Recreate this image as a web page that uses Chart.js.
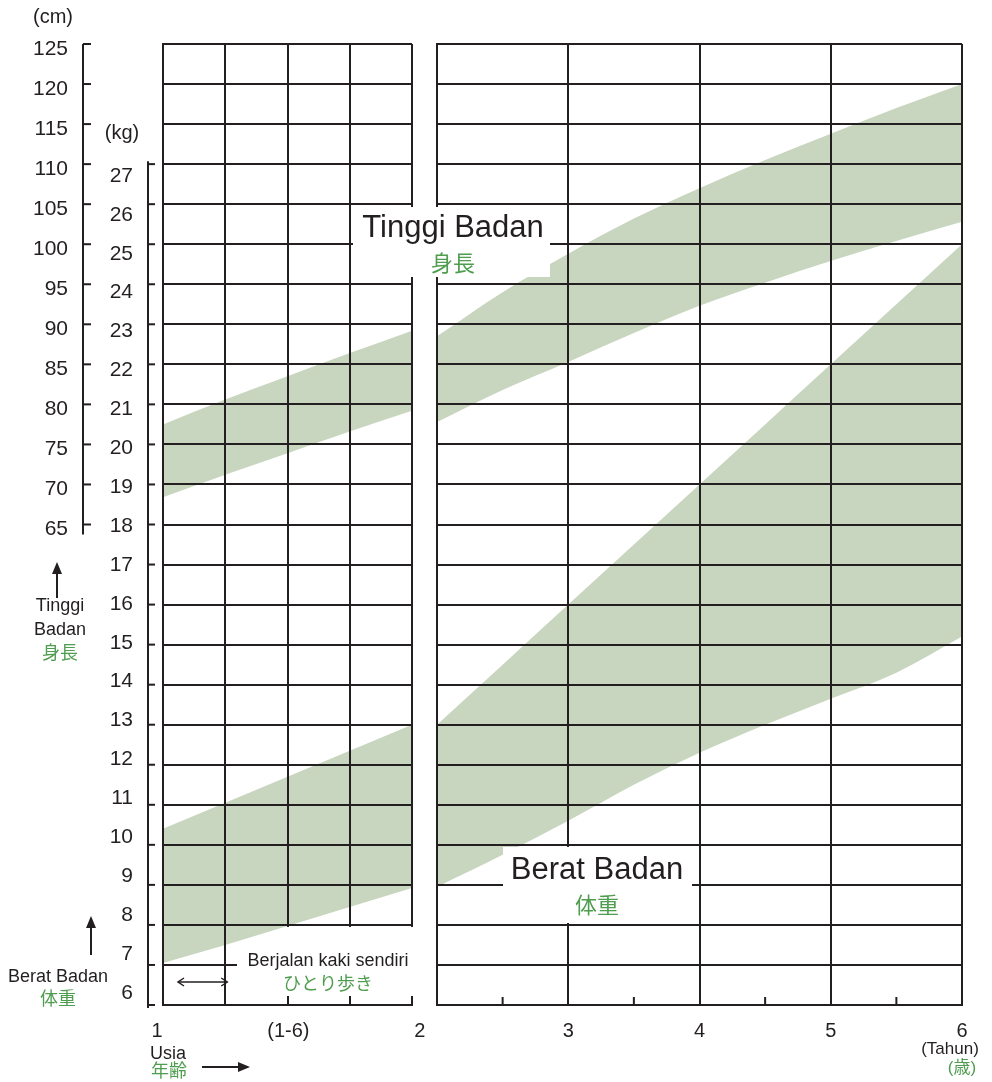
<!DOCTYPE html>
<html>
<head>
<meta charset="utf-8">
<script src="https://cdn.jsdelivr.net/npm/chart.js@4.4.0/dist/chart.umd.min.js"></script>
<style>
  html, body { margin: 0; padding: 0; background: #fff; }
  #wrap { position: relative; width: 992px; height: 1082px; }
  #wrap canvas { position: absolute; left: 0; top: 0; }
</style>
</head>
<body>
<div id="wrap">
  <canvas id="left-chart" width="992" height="1082"></canvas>
  <canvas id="right-chart" width="992" height="1082"></canvas>
</div>
<script>
// usia 1-2 tahun (panel kiri)
const ageInfant = [1, 1.25, 1.5, 1.75, 2];
const heightInfantHigh = [77.5, 80.6, 83.5, 86.4, 89.2];
const heightInfantLow = [68.4, 71.2, 73.9, 76.6, 79.2];
const weightInfantHigh = [10.4, 11.05, 11.7, 12.35, 13.0];
const weightInfantLow = [7.05, 7.5, 7.97, 8.45, 8.92];

// usia 2-6 tahun (panel kanan)
const ageChild = [2, 2.5, 3, 3.5, 4, 4.5, 5, 5.5, 6];
const heightChildHigh = [88.5, 94, 98.8, 103.2, 107, 110.5, 113.8, 117, 120];
const heightChildLow = [77.8, 81.8, 85.3, 88.9, 92.3, 95.2, 97.9, 100.4, 102.8];
const weightChildHigh = [13, 14.5, 16, 17.5, 19, 20.5, 22, 23.5, 25];
const weightChildLow = [8.95, 9.75, 10.6, 11.5, 12.3, 13.0, 13.65, 14.3, 15.2];

// label sumbu
const kgLabels = [6, 7, 8, 9, 10, 11, 12, 13, 14, 15, 16, 17, 18, 19, 20, 21, 22, 23, 24, 25, 26, 27];
const cmLabels = [65, 70, 75, 80, 85, 90, 95, 100, 105, 110, 115, 120, 125];
const leftAgeValues = [1, 1.5, 2];
const leftAgeLabels = ['1', '(1-6)', '2'];
const rightAgeValues = [3, 4, 5, 6];
const rightAgeLabels = ['3', '4', '5', '6'];
const halfYears = [2.5, 3.5, 4.5, 5.5];

const INK = '#231f20';
const GREEN_FILL = 'rgb(200, 214, 191)';
const GREEN_TEXT = '#4f9d4f';
const FONT = "'Liberation Sans', Arial, 'Noto Sans CJK JP', sans-serif";

function band(ages, hi, lo, axis) {
  const common = { yAxisID: axis, borderWidth: 0, borderColor: 'rgba(0,0,0,0)', pointRadius: 0, cubicInterpolationMode: 'monotone' };
  return [
    { ...common, data: ages.map((a, i) => ({ x: a, y: hi[i] })), fill: '+1', backgroundColor: GREEN_FILL },
    { ...common, data: ages.map((a, i) => ({ x: a, y: lo[i] })), fill: false }
  ];
}

function stroke(ctx, pts) {
  ctx.beginPath();
  ctx.moveTo(pts[0][0], pts[0][1]);
  for (let i = 1; i < pts.length; i++) ctx.lineTo(pts[i][0], pts[i][1]);
  ctx.stroke();
}

function text(ctx, str, x, y, size, color, align) {
  ctx.font = size + 'px ' + FONT;
  ctx.fillStyle = color;
  ctx.textAlign = align || 'center';
  ctx.textBaseline = 'middle';
  ctx.fillText(str, x, y);
}

// panah dengan ujung segitiga
function arrow(ctx, x1, y1, x2, y2) {
  ctx.lineWidth = 2;
  ctx.strokeStyle = INK;
  ctx.fillStyle = INK;
  stroke(ctx, [[x1, y1], [x2, y2]]);
  const ang = Math.atan2(y2 - y1, x2 - x1);
  ctx.beginPath();
  ctx.moveTo(x2 + Math.cos(ang) * 2, y2 + Math.sin(ang) * 2);
  ctx.lineTo(x2 - Math.cos(ang) * 10 + Math.sin(ang) * 5, y2 - Math.sin(ang) * 10 - Math.cos(ang) * 5);
  ctx.lineTo(x2 - Math.cos(ang) * 10 - Math.sin(ang) * 5, y2 - Math.sin(ang) * 10 + Math.cos(ang) * 5);
  ctx.closePath();
  ctx.fill();
}

const gridLine = { color: INK, lineWidth: 2, drawTicks: false, z: 1 };
const frame = { color: INK, width: 2, z: 1 };
const tickFont = { family: FONT, size: 20 };
const yTickFont = { family: FONT, size: 21 };

const leftDecor = {
  id: 'leftDecor',
  afterDraw(chart) {
    const ctx = chart.ctx;
    const kg = chart.scales.kg, cm = chart.scales.cm, x = chart.scales.x;
    const area = chart.chartArea;
    ctx.save();
    ctx.strokeStyle = INK;
    ctx.lineWidth = 2;

    // sumbu cm
    const cmX = cm.right;
    stroke(ctx, [[cmX, cm.getPixelForValue(125)], [cmX, cm.getPixelForValue(65) + 10]]);
    cmLabels.forEach(v => { const y = cm.getPixelForValue(v); stroke(ctx, [[cmX, y], [cmX + 8, y]]); });

    // sumbu kg
    const kgX = kg.left;
    stroke(ctx, [[kgX, kg.getPixelForValue(27) - 3], [kgX, kg.getPixelForValue(6) + 3]]);
    kgLabels.forEach(v => { const y = kg.getPixelForValue(v); stroke(ctx, [[kgX, y], [kgX + 7, y]]); });

    text(ctx, '(cm)', 53, 17, 20, INK);
    text(ctx, '(kg)', 122, 133, 20, INK);

    // keterangan kiri
    arrow(ctx, 57, 598, 57, 564);
    text(ctx, 'Tinggi', 60, 606, 18, INK);
    text(ctx, 'Badan', 60, 630, 18, INK);
    text(ctx, '身長', 60, 654, 18, GREEN_TEXT);

    arrow(ctx, 91, 955, 91, 918);
    text(ctx, 'Berat Badan', 58, 977, 18, INK);
    text(ctx, '体重', 58, 1000, 18, GREEN_TEXT);

    text(ctx, 'Usia', 168, 1054, 18, INK);
    text(ctx, '年齢', 169, 1072, 18, GREEN_TEXT);
    arrow(ctx, 202, 1067, 248, 1067);

    // kotak "berjalan kaki sendiri"
    ctx.fillStyle = '#fff';
    ctx.fillRect(285, area.bottom - 78, area.right - 281, 69);
    ctx.fillRect(237, area.bottom - 59, 60, 50);
    text(ctx, 'Berjalan kaki sendiri', 328, 961, 18, INK);
    text(ctx, 'ひとり歩き', 328, 985, 18, GREEN_TEXT);
    const xa = x.getPixelForValue(1) + 15, xb = x.getPixelForValue(1.25) + 2;
    ctx.lineWidth = 1.5;
    stroke(ctx, [[xa, 982], [xb, 982]]);
    stroke(ctx, [[xa + 6, 978], [xa, 982], [xa + 6, 986]]);
    stroke(ctx, [[xb - 6, 978], [xb, 982], [xb - 6, 986]]);
    ctx.restore();
  }
};

const rightDecor = {
  id: 'rightDecor',
  afterDraw(chart) {
    const ctx = chart.ctx;
    const x = chart.scales.x;
    const area = chart.chartArea;
    ctx.save();
    ctx.strokeStyle = INK;
    ctx.lineWidth = 2;
    halfYears.forEach(v => {
      const px = x.getPixelForValue(v);
      stroke(ctx, [[px, area.bottom], [px, area.bottom - 8]]);
    });

    // label Tinggi Badan
    ctx.fillStyle = '#fff';
    ctx.fillRect(353, 207, 197, 70);
    text(ctx, 'Tinggi Badan', 453, 228, 31, INK);
    text(ctx, '身長', 453, 265, 22, GREEN_TEXT);

    // label Berat Badan
    ctx.fillStyle = '#fff';
    ctx.fillRect(503, 847, 189, 76);
    text(ctx, 'Berat Badan', 597, 870, 31, INK);
    text(ctx, '体重', 597, 907, 22, GREEN_TEXT);

    text(ctx, '(Tahun)', 950, 1049, 17, INK);
    text(ctx, '(歳)', 962, 1068, 17, GREEN_TEXT);
    ctx.restore();
  }
};

new Chart(document.getElementById('left-chart').getContext('2d'), {
  type: 'line',
  data: {
    datasets: [
      ...band(ageInfant, heightInfantHigh, heightInfantLow, 'cm'),
      ...band(ageInfant, weightInfantHigh, weightInfantLow, 'kg')
    ]
  },
  options: {
    responsive: false,
    animation: false,
    layout: { padding: { left: 0, top: 44, right: 580, bottom: 0 } },
    plugins: { legend: { display: false }, tooltip: { enabled: false } },
    scales: {
      x: {
        type: 'linear', position: 'bottom', weight: 0, min: 1, max: 2,
        ticks: { stepSize: 0.25, display: false },
        grid: gridLine, border: frame,
        afterFit: s => { s.height = 0; }
      },
      // label usia; di gambar asli label 1 dan 2 sedikit di luar garis tepi
      xText: {
        type: 'linear', position: 'bottom', weight: 1, min: 1.023, max: 1.97,
        afterBuildTicks: s => { s.ticks = leftAgeValues.map(v => ({ value: v })); },
        ticks: {
          autoSkip: false, maxRotation: 0, padding: 14, font: tickFont, color: INK,
          callback: v => { const i = leftAgeValues.indexOf(v); return i < 0 ? '' : leftAgeLabels[i]; }
        },
        grid: { display: false, drawTicks: false }, border: { display: false },
        afterFit: s => { s.height = 77; }
      },
      kg: {
        type: 'linear', position: 'left', weight: 0, min: 6, max: 30,
        ticks: { stepSize: 1, display: false },
        grid: gridLine, border: frame,
        afterFit: s => { s.width = 15; }
      },
      // label kg di gambar asli sedikit lebih rapat daripada garis kisi
      kgText: {
        type: 'linear', position: 'left', weight: 1, min: 5.69, max: 30.39,
        afterBuildTicks: s => { s.ticks = kgLabels.map(v => ({ value: v })); },
        ticks: { padding: 15, font: yTickFont, color: INK, callback: v => String(v) },
        grid: { display: false, drawTicks: false }, border: { display: false },
        afterFit: s => { s.width = 65; }
      },
      cm: {
        type: 'linear', position: 'left', weight: 2, min: 5, max: 125,
        ticks: {
          stepSize: 5, padding: 15, labelOffset: 5, font: yTickFont, color: INK,
          callback: v => cmLabels.includes(v) ? String(v) : ''
        },
        grid: { display: false, drawTicks: false }, border: { display: false },
        afterFit: s => { s.width = 83; }
      }
    }
  },
  plugins: [leftDecor]
});

new Chart(document.getElementById('right-chart').getContext('2d'), {
  type: 'line',
  data: {
    datasets: [
      ...band(ageChild, heightChildHigh, heightChildLow, 'cm'),
      ...band(ageChild, weightChildHigh, weightChildLow, 'kg')
    ]
  },
  options: {
    responsive: false,
    animation: false,
    layout: { padding: { left: 437, top: 44, right: 30, bottom: 0 } },
    plugins: { legend: { display: false }, tooltip: { enabled: false } },
    scales: {
      x: {
        type: 'linear', position: 'bottom', min: 2, max: 6,
        ticks: {
          stepSize: 0.5, autoSkip: false, maxRotation: 0, padding: 14,
          font: tickFont, color: INK,
          callback: v => { const i = rightAgeValues.indexOf(v); return i < 0 ? '' : rightAgeLabels[i]; }
        },
        grid: { ...gridLine, color: c => (c.tick && Number.isInteger(c.tick.value)) ? INK : 'rgba(0,0,0,0)' },
        border: frame,
        afterFit: s => { s.height = 77; }
      },
      kg: {
        type: 'linear', position: 'left', min: 6, max: 30,
        ticks: { stepSize: 1, display: false },
        grid: gridLine, border: frame,
        afterFit: s => { s.width = 0; }
      },
      cm: {
        type: 'linear', position: 'left', min: 5, max: 125, display: false
      }
    }
  },
  plugins: [rightDecor]
});
</script>
</body>
</html>
